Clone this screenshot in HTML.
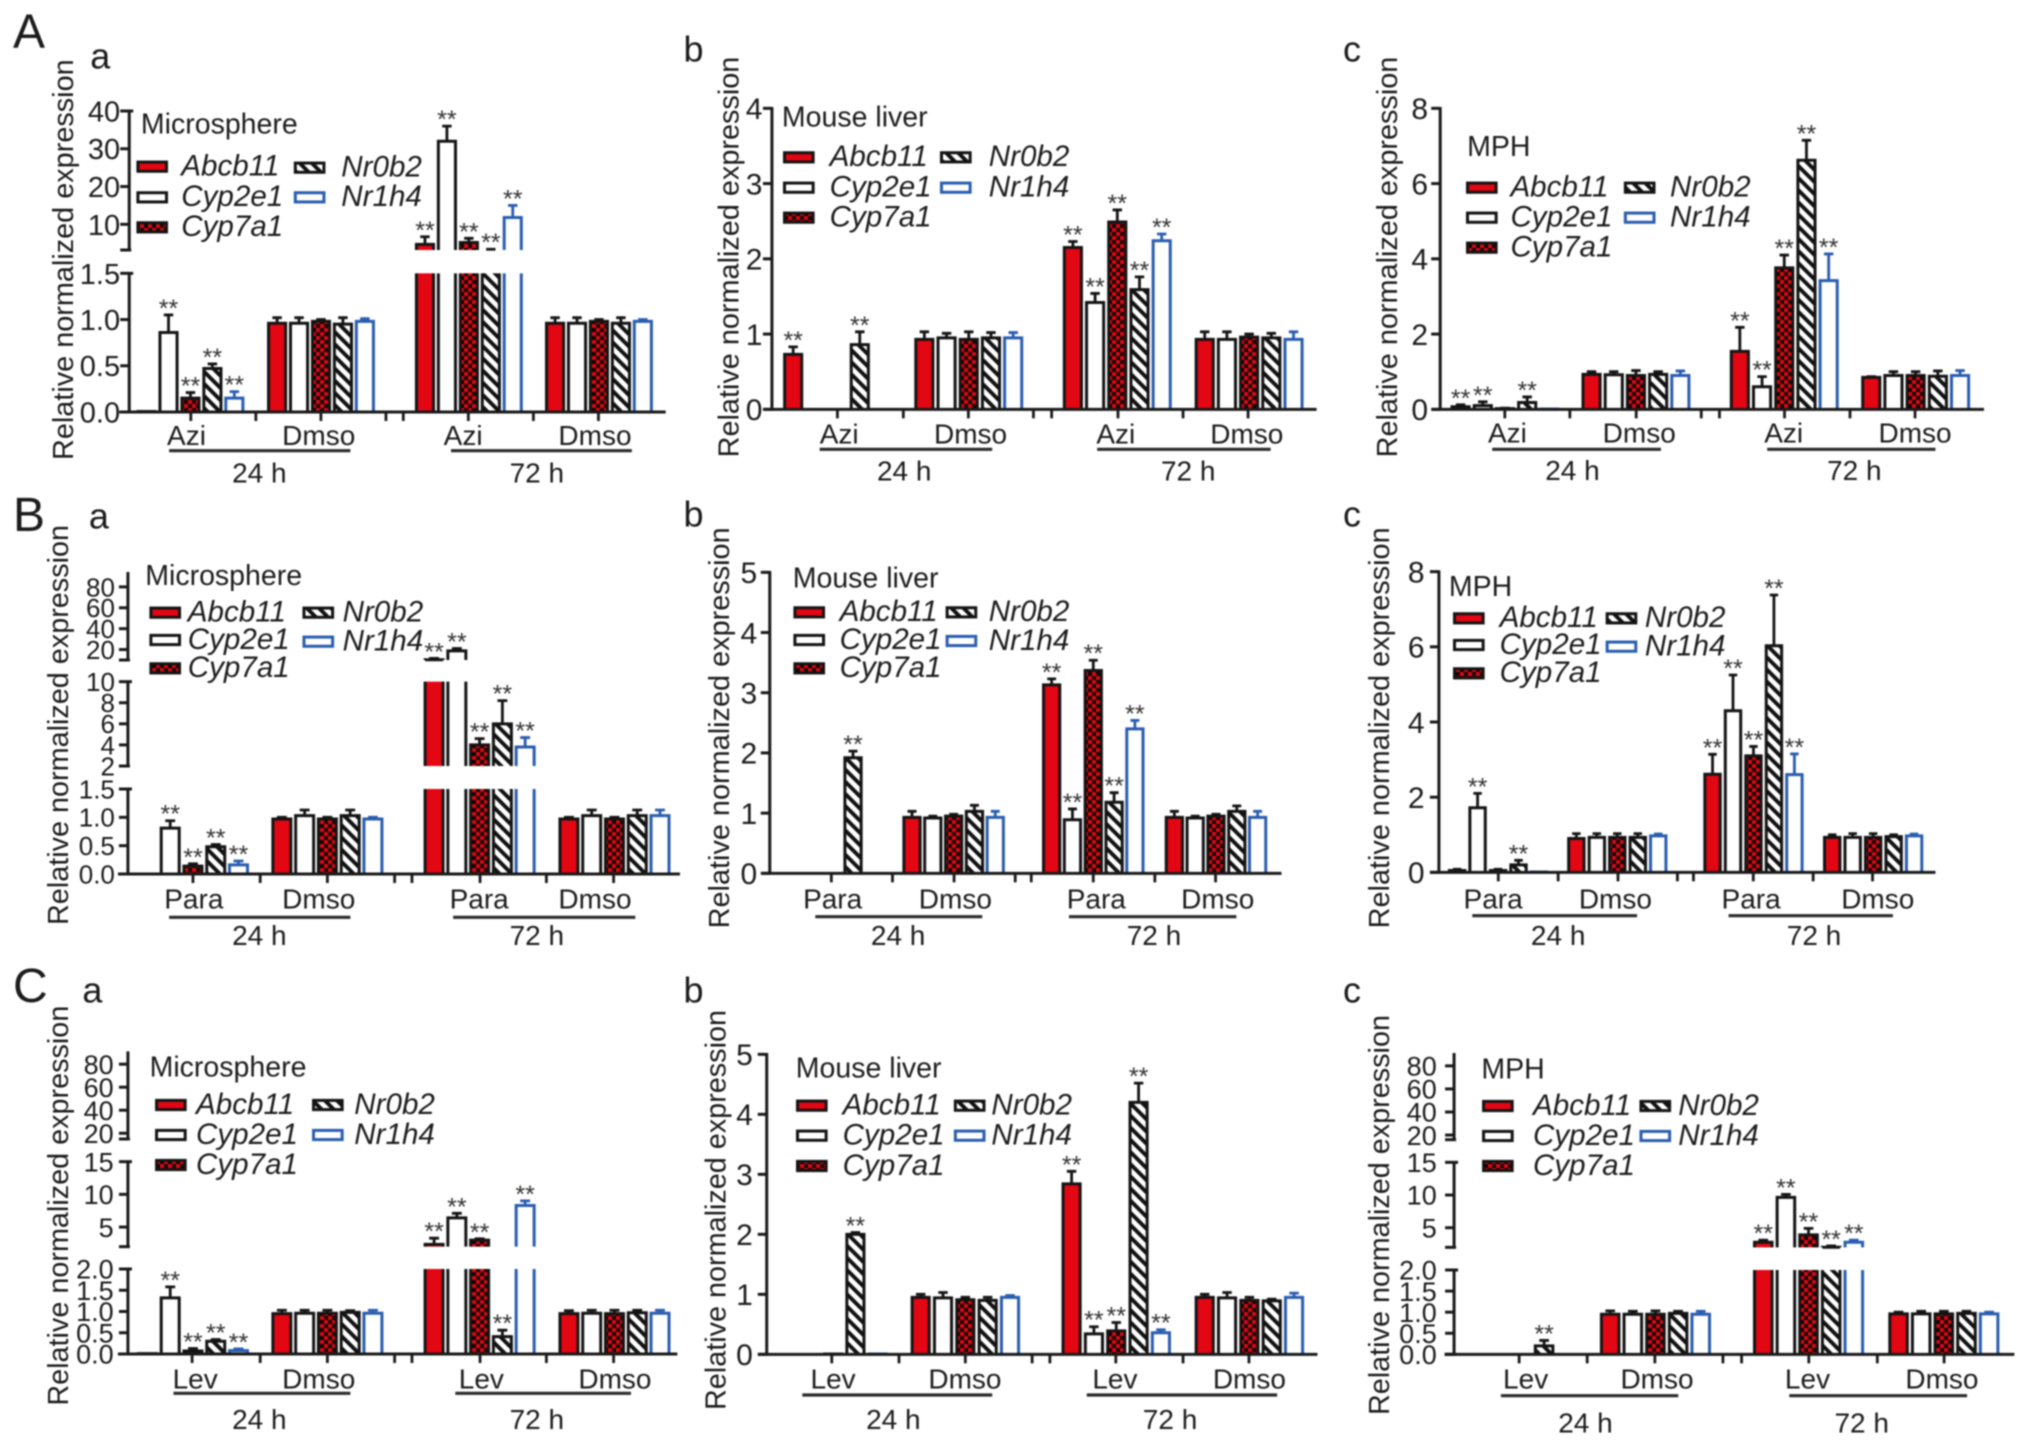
<!DOCTYPE html>
<html lang="en">
<head>
<meta charset="utf-8">
<title>Relative normalized expression panels</title>
<style>
html,body{margin:0;padding:0;background:#fff;width:2032px;height:1445px;overflow:hidden}
svg{display:block;filter:blur(0.8px)}
text{font-family:"Liberation Sans",Arial,sans-serif;fill:#1c1c1c}
</style>
</head>
<body>
<svg id="figure" xmlns="http://www.w3.org/2000/svg" width="2032" height="1445" viewBox="0 0 2032 1445">
  <defs>
    <pattern id="checker" width="8" height="8" patternUnits="userSpaceOnUse">
      <rect width="8" height="8" fill="#d90a16"/>
      <rect width="4" height="4" fill="#120000"/>
      <rect x="4" y="4" width="4" height="4" fill="#120000"/>
    </pattern>
    <pattern id="stripes" width="8.6" height="8.6" patternUnits="userSpaceOnUse" patternTransform="rotate(-45)">
      <rect width="8.6" height="8.6" fill="#fff"/>
      <rect width="3.9" height="8.6" fill="#111"/>
    </pattern>
  </defs>
</svg>
<script>
/* ---------- shared categories ---------- */
const genes = ['Abcb11', 'Cyp2e1', 'Cyp7a1', 'Nr0b2', 'Nr1h4'];
const timeLabels = ['24 h', '72 h'];

/* ---------- data: rows = 24 h treated, 24 h Dmso, 72 h treated, 72 h Dmso ---------- */
const Aa_values = [[0.005,0.86,0.15,0.47,0.15],[0.96,0.96,0.98,0.95,0.98],[4.7,32,5.2,3.0,11.8],[0.96,0.96,0.98,0.96,0.98]];
const Aa_errors = [[0,0.19,0.06,0.05,0.07],[0.06,0.06,0.02,0.07,0.03],[2.0,4,1.1,0.4,3.2],[0.06,0.06,0.02,0.06,0.02]];
const Aa_stars = [[0,1,1,1,1],[0,0,0,0,0],[1,1,1,1,1],[0,0,0,0,0]];
const Aa_ticks = [['0.0','0.5','1.0','1.5'],['10','20','30','40']];
const Aa_groups = ['Azi','Dmso','Azi','Dmso'];

const Ab_values = [[0.73,0,0,0.86,0],[0.93,0.95,0.93,0.95,0.95],[2.15,1.42,2.49,1.59,2.24],[0.93,0.93,0.96,0.95,0.93]];
const Ab_errors = [[0.1,0,0,0.17,0],[0.1,0.06,0.1,0.07,0.07],[0.08,0.12,0.16,0.17,0.09],[0.1,0.1,0.04,0.06,0.1]];
const Ab_stars = [[1,0,0,1,0],[0,0,0,0,0],[1,1,1,1,1],[0,0,0,0,0]];
const Ab_ticks = [['0','1','2','3','4']];
const Ab_groups = ['Azi','Dmso','Azi','Dmso'];

const Ac_values = [[0.07,0.1,0.02,0.18,0.005],[0.93,0.92,0.9,0.93,0.9],[1.54,0.6,3.76,6.62,3.42],[0.85,0.9,0.9,0.88,0.9]];
const Ac_errors = [[0.05,0.1,0.01,0.15,0],[0.07,0.08,0.13,0.07,0.12],[0.64,0.27,0.34,0.53,0.71],[0.02,0.1,0.1,0.14,0.13]];
const Ac_stars = [[1,1,0,1,0],[0,0,0,0,0],[1,1,1,1,1],[0,0,0,0,0]];
const Ac_ticks = [['0','2','4','6','8']];
const Ac_groups = ['Azi','Dmso','Azi','Dmso'];

const Ba_values = [[0,0.81,0.14,0.48,0.16],[0.97,1.03,0.97,1.03,0.97],[10.2,18.7,4.0,6.0,3.8],[0.97,1.03,0.97,1.03,1.03]];
const Ba_errors = [[0,0.13,0.04,0.04,0.07],[0.03,0.1,0.03,0.1,0.03],[1.3,2.3,0.6,2.2,0.9],[0.03,0.1,0.03,0.1,0.1]];
const Ba_stars = [[0,1,1,1,1],[0,0,0,0,0],[1,1,1,1,1],[0,0,0,0,0]];
const Ba_ticks = [['0.0','0.5','1.0','1.5'],['2','4','6','8','10'],['20','40','60','80']];
const Ba_groups = ['Para','Dmso','Para','Dmso'];

const Bb_values = [[0,0,0,1.92,0],[0.93,0.92,0.95,1.03,0.93],[3.13,0.89,3.37,1.18,2.4],[0.93,0.92,0.95,1.03,0.93]];
const Bb_errors = [[0,0,0,0.11,0],[0.1,0.03,0.03,0.1,0.1],[0.1,0.18,0.17,0.16,0.14],[0.1,0.03,0.03,0.09,0.1]];
const Bb_stars = [[0,0,0,1,0],[0,0,0,0,0],[1,1,1,1,1],[0,0,0,0,0]];
const Bb_ticks = [['0','1','2','3','4','5']];
const Bb_groups = ['Para','Dmso','Para','Dmso'];

const Bc_values = [[0.05,1.72,0.05,0.2,0.01],[0.9,0.93,0.93,0.93,0.97],[2.61,4.3,3.1,6.03,2.6],[0.93,0.93,0.93,0.95,0.97]];
const Bc_errors = [[0.03,0.38,0.03,0.12,0],[0.13,0.1,0.1,0.1,0.05],[0.53,0.95,0.25,1.35,0.55],[0.07,0.1,0.1,0.05,0.05]];
const Bc_stars = [[0,1,0,1,0],[0,0,0,0,0],[1,1,1,1,1],[0,0,0,0,0]];
const Bc_ticks = [['0','2','4','6','8']];
const Bc_groups = ['Para','Dmso','Para','Dmso'];

const Ca_values = [[0.01,1.32,0.07,0.3,0.08],[0.95,0.96,0.96,0.98,0.96],[2.36,6.4,3.0,0.41,8.3],[0.95,0.96,0.95,0.97,0.96]];
const Ca_errors = [[0,0.26,0.06,0.04,0.04],[0.08,0.07,0.07,0.04,0.07],[0.94,0.7,0.2,0.15,0.7],[0.07,0.07,0.08,0.06,0.07]];
const Ca_stars = [[0,1,1,1,1],[0,0,0,0,0],[1,1,1,1,1],[0,0,0,0,0]];
const Ca_ticks = [['0.0','0.5','1.0','1.5','2.0'],['5','10','15'],['20','40','60','80']];
const Ca_groups = ['Lev','Dmso','Lev','Dmso'];

const Cb_values = [[0,0,0.005,2.0,0.005],[0.95,0.94,0.91,0.9,0.95],[2.84,0.34,0.39,4.2,0.36],[0.95,0.94,0.9,0.89,0.95]];
const Cb_errors = [[0,0,0,0.03,0],[0.05,0.09,0.04,0.05,0.03],[0.21,0.12,0.14,0.32,0.05],[0.05,0.09,0.05,0.03,0.07]];
const Cb_stars = [[0,0,0,1,0],[0,0,0,0,0],[1,1,1,1,1],[0,0,0,0,0]];
const Cb_ticks = [['0','1','2','3','4','5']];
const Cb_groups = ['Lev','Dmso','Lev','Dmso'];

const Cc_values = [[0,0,0,0.2,0],[0.95,0.95,0.95,0.97,0.95],[2.77,9.65,3.9,2.02,2.77],[0.96,0.96,0.96,0.97,0.96]];
const Cc_errors = [[0,0,0,0.13,0],[0.08,0.07,0.08,0.05,0.07],[0.33,0.45,1.0,0.2,0.33],[0.04,0.06,0.06,0.05,0.04]];
const Cc_stars = [[0,0,0,1,0],[0,0,0,0,0],[1,1,1,1,1],[0,0,0,0,0]];
const Cc_ticks = [['0.0','0.5','1.0','1.5','2.0'],['5','10','15'],['20','40','60','80']];
const Cc_groups = ['Lev','Dmso','Lev','Dmso'];

/* ---------- layout (measured units: 2.306 per px across, 3 per px down, relative to panel origin) ---------- */
const SX = 1 / 2.306, SY = 1 / 3;
const panelLayouts = [
  {id:'Aa',values:Aa_values,errors:Aa_errors,stars:Aa_stars,ticks:Aa_ticks,groups:Aa_groups,title:'Microsphere',letter:'a',x0:0,y0:0,
   axisX:298,tickRight:277,tickFont:29,segs:[{d:[0,1.5],r:[1236,820]},{d:[3.2,40],r:[750,333]}],
   groupX:[338,639,980,1280],pitch:50.6,barW:45,axisSpan:[275,1535],xTicks:[440,590,740,890,930,1080,1230,1380],
   labelX:[430,735,1068,1372],labelY:1335,under:[[390,808],[1040,1457]],underY:1352,timeX:[598,1238],timeY:1447,
   titleX:325,titleY:400,sw:[315,678],txt:[418,787],rowsA:[500,592,682],rowsB:[503,592],
   letterX:208,letterY:205,yTitleX:168,yTitle:[178,1380]},
  {id:'Ab',values:Ab_values,errors:Ab_errors,stars:Ab_stars,ticks:Ab_ticks,groups:Ab_groups,title:'Mouse liver',letter:'b',x0:680,y0:0,
   axisX:212,tickRight:190,tickFont:30,segs:[{d:[0,4],r:[1228,325]}],
   groupX:[261,563.5,906,1210],pitch:51.2,barW:45,axisSpan:[195,1468],xTicks:[363,515,665,815,857,1010,1160,1310],
   labelX:[367,670,1005,1307],labelY:1330,under:[[322,720],[962,1362]],underY:1348,timeX:[517,1172],timeY:1442,
   titleX:235,titleY:380,sw:[238,600],txt:[345,712],rowsA:[472,563,653],rowsB:[472,563],
   letterX:8,letterY:185,yTitleX:135,yTitle:[170,1372]},
  {id:'Ac',values:Ac_values,errors:Ac_errors,stars:Ac_stars,ticks:Ac_ticks,groups:Ac_groups,title:'MPH',letter:'c',x0:1350,y0:0,
   axisX:208,tickRight:180,tickFont:30,segs:[{d:[0,8],r:[1228,325]}],
   groupX:[255,557,899,1202],pitch:51.2,barW:45,axisSpan:[188,1462],xTicks:[357,507,660,810,852,1002,1153,1303],
   labelX:[363,667,1000,1303],labelY:1328,under:[[328,717],[962,1350]],underY:1348,timeX:[513,1163],timeY:1440,
   titleX:270,titleY:468,sw:[268,632],txt:[370,738],rowsA:[563,653,743],rowsB:[563,653],
   letterX:-16,letterY:185,yTitleX:108,yTitle:[170,1372]},
  {id:'Ba',values:Ba_values,errors:Ba_errors,stars:Ba_stars,ticks:Ba_ticks,groups:Ba_groups,title:'Microsphere',letter:'a',x0:0,y0:490,
   axisX:295,tickRight:265,tickFont:26,segs:[{d:[0,1.5],r:[1152,897]},{d:[2,10],r:[828,575]},{d:[10,93],r:[510,250]}],
   groupX:[340,650,1001,1312],pitch:52.5,barW:47,axisSpan:[272,1568],xTicks:[445,600,755,910,950,1107,1260,1415],
   labelX:[447,735,1105,1372],labelY:1255,under:[[390,808],[1045,1465]],underY:1282,timeX:[598,1238],timeY:1365,
   titleX:335,titleY:285,sw:[345,698],txt:[433,790],rowsA:[368,450,535],rowsB:[368,455],
   letterX:205,letterY:115,yTitleX:157,yTitle:[105,1305]},
  {id:'Bb',values:Bb_values,errors:Bb_errors,stars:Bb_stars,ticks:Bb_ticks,groups:Bb_groups,title:'Mouse liver',letter:'b',x0:680,y0:490,
   axisX:207,tickRight:178,tickFont:30,segs:[{d:[0,5],r:[1150,247]}],
   groupX:[255,535,857,1140],pitch:48,barW:43,axisSpan:[190,1387],xTicks:[349,490,632,773,810,953,1095,1235],
   labelX:[352,635,960,1240],labelY:1255,under:[[312,697],[897,1283]],underY:1280,timeX:[503,1093],timeY:1365,
   titleX:260,titleY:292,sw:[262,613],txt:[368,712],rowsA:[367,450,535],rowsB:[367,453],
   letterX:8,letterY:110,yTitleX:113,yTitle:[112,1315]},
  {id:'Bc',values:Bc_values,errors:Bc_errors,stars:Bc_stars,ticks:Bc_ticks,groups:Bc_groups,title:'MPH',letter:'c',x0:1350,y0:490,
   axisX:205,tickRight:172,tickFont:30,segs:[{d:[0,8],r:[1147,245]}],
   groupX:[247,522,836,1112],pitch:47.2,barW:41,axisSpan:[185,1350],xTicks:[342,480,618,755,792,930,1068,1205],
   labelX:[330,612,925,1217],labelY:1255,under:[[282,662],[873,1252]],underY:1277,timeX:[480,1070],timeY:1365,
   titleX:228,titleY:318,sw:[238,590],txt:[345,680],rowsA:[385,465,550],rowsB:[385,470],
   letterX:-16,letterY:110,yTitleX:90,yTitle:[112,1315]},
  {id:'Ca',values:Ca_values,errors:Ca_errors,stars:Ca_stars,ticks:Ca_ticks,groups:Ca_groups,title:'Microsphere',letter:'a',x0:0,y0:965,
   axisX:295,tickRight:262,tickFont:27,segs:[{d:[0,2],r:[1167,912]},{d:[2,15],r:[845,590]},{d:[15,90],r:[522,263]}],
   groupX:[340,650,1001,1312],pitch:52.5,barW:47,axisSpan:[272,1562],xTicks:[443,600,755,910,950,1107,1260,1415],
   labelX:[450,735,1110,1418],labelY:1270,under:[[400,808],[1050,1455]],underY:1285,timeX:[598,1238],timeY:1392,
   titleX:345,titleY:335,sw:[358,720],txt:[452,817],rowsA:[420,510,600],rowsB:[420,510],
   letterX:190,letterY:112,yTitleX:157,yTitle:[122,1322]},
  {id:'Cb',values:Cb_values,errors:Cb_errors,stars:Cb_stars,ticks:Cb_ticks,groups:Cb_groups,title:'Mouse liver',letter:'b',x0:680,y0:965,
   axisX:200,tickRight:168,tickFont:30,segs:[{d:[0,5],r:[1168,268]}],
   groupX:[250,555,903,1210],pitch:51.5,barW:45,axisSpan:[180,1470],xTicks:[350,505,658,812,853,1005,1160,1312],
   labelX:[353,657,1003,1313],labelY:1270,under:[[282,720],[938,1377]],underY:1290,timeX:[492,1130],timeY:1392,
   titleX:267,titleY:338,sw:[268,632],txt:[375,718],rowsA:[422,512,603],rowsB:[422,512],
   letterX:8,letterY:112,yTitleX:105,yTitle:[135,1335]},
  {id:'Cc',values:Cc_values,errors:Cc_errors,stars:Cc_stars,ticks:Cc_ticks,groups:Cc_groups,title:'MPH',letter:'c',x0:1350,y0:965,
   axisX:240,tickRight:200,tickFont:27,segs:[{d:[0,2],r:[1168,915]},{d:[2,15],r:[847,592]},{d:[16,90],r:[524,268]}],
   groupX:[291,600,953,1265],pitch:52.2,barW:46,axisSpan:[218,1532],xTicks:[390,547,703,860,903,1058,1216,1370],
   labelX:[405,708,1055,1365],labelY:1270,under:[[348,757],[1013,1423]],underY:1292,timeX:[543,1180],timeY:1402,
   titleX:303,titleY:340,sw:[305,668],txt:[422,757],rowsA:[423,513,603],rowsB:[423,513],
   letterX:-16,letterY:112,yTitleX:90,yTitle:[150,1350]}
];
const sectionLetters = [
  {text:'A',x:13,y:47.5},
  {text:'B',x:13,y:531},
  {text:'C',x:13,y:1002}
];

/* ---------- styles per gene ---------- */
const geneFills = ['#e30613','#ffffff','url(#checker)','url(#stripes)','#ffffff'];
const geneStrokes = ['#141414','#141414','#141414','#141414','#2a5db0'];

/* ---------- helpers ---------- */
const NS = 'http://www.w3.org/2000/svg';
const root = document.getElementById('figure');
function mk(tag, attrs, parent, text) {
  const el = document.createElementNS(NS, tag);
  for (const k in attrs) el.setAttribute(k, attrs[k]);
  if (text !== undefined) el.textContent = text;
  parent.appendChild(el);
  return el;
}
function makeYScale(segs) {
  return function (v) {
    for (let i = 0; i < segs.length; i++) {
      const s = segs[i];
      if (v <= s.d[0]) return s.r[0];
      if (v <= s.d[1]) return s.r[0] + (v - s.d[0]) / (s.d[1] - s.d[0]) * (s.r[1] - s.r[0]);
    }
    return segs[segs.length - 1].r[1];
  };
}

/* ---------- section letters ---------- */
sectionLetters.forEach(function (s) {
  const t = mk('text', {x: s.x, y: s.y, 'font-size': 48}, root, s.text);
  
  
});

/* ---------- panels ---------- */
panelLayouts.forEach(function (p) {
  const X = function (z) { return p.x0 + z * SX; };
  const Y = function (z) { return p.y0 + z * SY; };
  const yScale = makeYScale(p.segs);
  const barX = function (g, i) { return p.groupX[g] + i * p.pitch; };

  const panel = mk('g', {}, root);
  
  

  const letter = mk('text', {x: X(p.letterX), y: Y(p.letterY), 'font-size': 36}, panel, p.letter);
  
  

  /* y-axis title */
  const ty = Y((p.yTitle[0] + p.yTitle[1]) / 2);
  const yTitle = mk('text', {
    x: X(p.yTitleX), y: ty, 'font-size': 29, 'text-anchor': 'middle',
    textLength: (p.yTitle[1] - p.yTitle[0]) * SY, lengthAdjust: 'spacingAndGlyphs',
    transform: 'rotate(-90 ' + X(p.yTitleX) + ' ' + ty + ')'
  }, panel, 'Relative normalized expression');
  
  

  /* bars */
  p.values.forEach(function (row, g) {
    row.forEach(function (v, i) {
      if (v <= 0) return;
      const cx = X(barX(g, i));
      const hw = p.barW * SX / 2 - 1.2;
      const bar = mk('g', {}, panel);
      
      
      p.segs.forEach(function (s, si) {
        if (si > 0 && v <= s.d[0]) return;
        const clipped = v > s.d[1];
        const topZ = yScale(Math.min(v, s.d[1]));
        const yb = Y(s.r[0]), yt = Y(topZ);
        const fill = mk('rect', {x: cx - hw, y: yt, width: hw * 2, height: Math.max(yb - yt, 0), fill: geneFills[i]}, bar);
        
        
        const d = clipped
          ? 'M' + (cx - hw) + ' ' + yb + 'V' + yt + 'M' + (cx + hw) + ' ' + yb + 'V' + yt
          : 'M' + (cx - hw) + ' ' + yb + 'V' + yt + 'H' + (cx + hw) + 'V' + yb;
        const outline = mk('path', {d: d, fill: 'none', stroke: geneStrokes[i], 'stroke-width': 3}, bar);
        
        
      });
      const e = p.errors[g][i];
      const topVal = v + e;
      const yA = Y(yScale(v)), yB = Y(yScale(topVal));
      if (e > 0) {
        const capHalf = Math.min(5.5, hw * 0.55);
        const err = mk('path', {
          d: 'M' + cx + ' ' + yA + 'V' + yB + 'M' + (cx - capHalf) + ' ' + yB + 'H' + (cx + capHalf),
          fill: 'none', stroke: geneStrokes[i], 'stroke-width': 2.8
        }, bar);
        
        
      }
      if (p.stars[g][i]) {
        const star = mk('text', {x: cx, y: yB + 2, 'font-size': 25, 'text-anchor': 'middle', style: 'fill:#333'}, bar, '**');
        
        
      }
    });
  });

  /* y axis segments */
  const axisX = X(p.axisX);
  p.segs.forEach(function (s, si) {
    const line = mk('line', {x1: axisX, x2: axisX, y1: Y(s.r[0]) + 1.3, y2: Y(s.r[1]) - 1.3, stroke: '#1a1a1a', 'stroke-width': 3}, panel);
    
    
    if (si > 0 || p.segs.length > 1) {
      const endTick = mk('path', {
        d: 'M' + (axisX - 9) + ' ' + Y(s.r[0]) + 'H' + (axisX + 2),
        stroke: '#1a1a1a', 'stroke-width': 3, fill: 'none'
      }, panel);
      
      
    }
    (p.ticks[si] || []).forEach(function (label) {
      const val = parseFloat(label);
      const ty2 = Y(yScale(val));
      const tick = mk('line', {x1: axisX - 9, x2: axisX + (val === s.d[1] && p.segs.length > 1 ? 4 : 0), y1: ty2, y2: ty2, stroke: '#1a1a1a', 'stroke-width': 3}, panel);
      
      
      const tl = mk('text', {x: X(p.tickRight), y: ty2 + p.tickFont * 0.36, 'font-size': p.tickFont, 'text-anchor': 'end'}, panel, label);
      
      
    });
  });

  /* x axis */
  const y0 = Y(p.segs[0].r[0]);
  const xLine = mk('line', {x1: X(p.axisSpan[0]), x2: X(p.axisSpan[1]), y1: y0, y2: y0, stroke: '#1a1a1a', 'stroke-width': 3}, panel);
  
  
  p.xTicks.forEach(function (z) {
    const t = mk('line', {x1: X(z), x2: X(z), y1: y0, y2: y0 + 9, stroke: '#1a1a1a', 'stroke-width': 2.8}, panel);
    
    
  });
  p.groups.forEach(function (g, i) {
    const t = mk('text', {x: X(p.labelX[i]), y: Y(p.labelY), 'font-size': 28, 'text-anchor': 'middle'}, panel, g);
    
    
  });
  p.under.forEach(function (u, i) {
    const l = mk('line', {x1: X(u[0]), x2: X(u[1]), y1: Y(p.underY), y2: Y(p.underY), stroke: '#2a2a2a', 'stroke-width': 3.2}, panel);
    
    
    const t = mk('text', {x: X(p.timeX[i]), y: Y(p.timeY), 'font-size': 28, 'text-anchor': 'middle'}, panel, timeLabels[i]);
    
    
  });

  /* legend */
  const legend = mk('g', {}, panel);
  
  
  const title = mk('text', {x: X(p.titleX), y: Y(p.titleY), 'font-size': 28.5}, legend, p.title);
  
  
  genes.forEach(function (gene, i) {
    const col = i < 3 ? 0 : 1;
    const rowZ = col === 0 ? p.rowsA[i] : p.rowsB[i - 3];
    const sw = mk('rect', {
      x: X(p.sw[col]) + 1.3, y: Y(rowZ) - 4.6, width: 72 * SX - 2.6, height: 9.2,
      fill: geneFills[i], stroke: geneStrokes[i], 'stroke-width': 3
    }, legend);
    
    
    const lt = mk('text', {x: X(p.txt[col]), y: Y(rowZ) + 8.8, 'font-size': 29.6, 'font-style': 'italic'}, legend, gene);
    
    
  });
});
</script>
</body>
</html>
